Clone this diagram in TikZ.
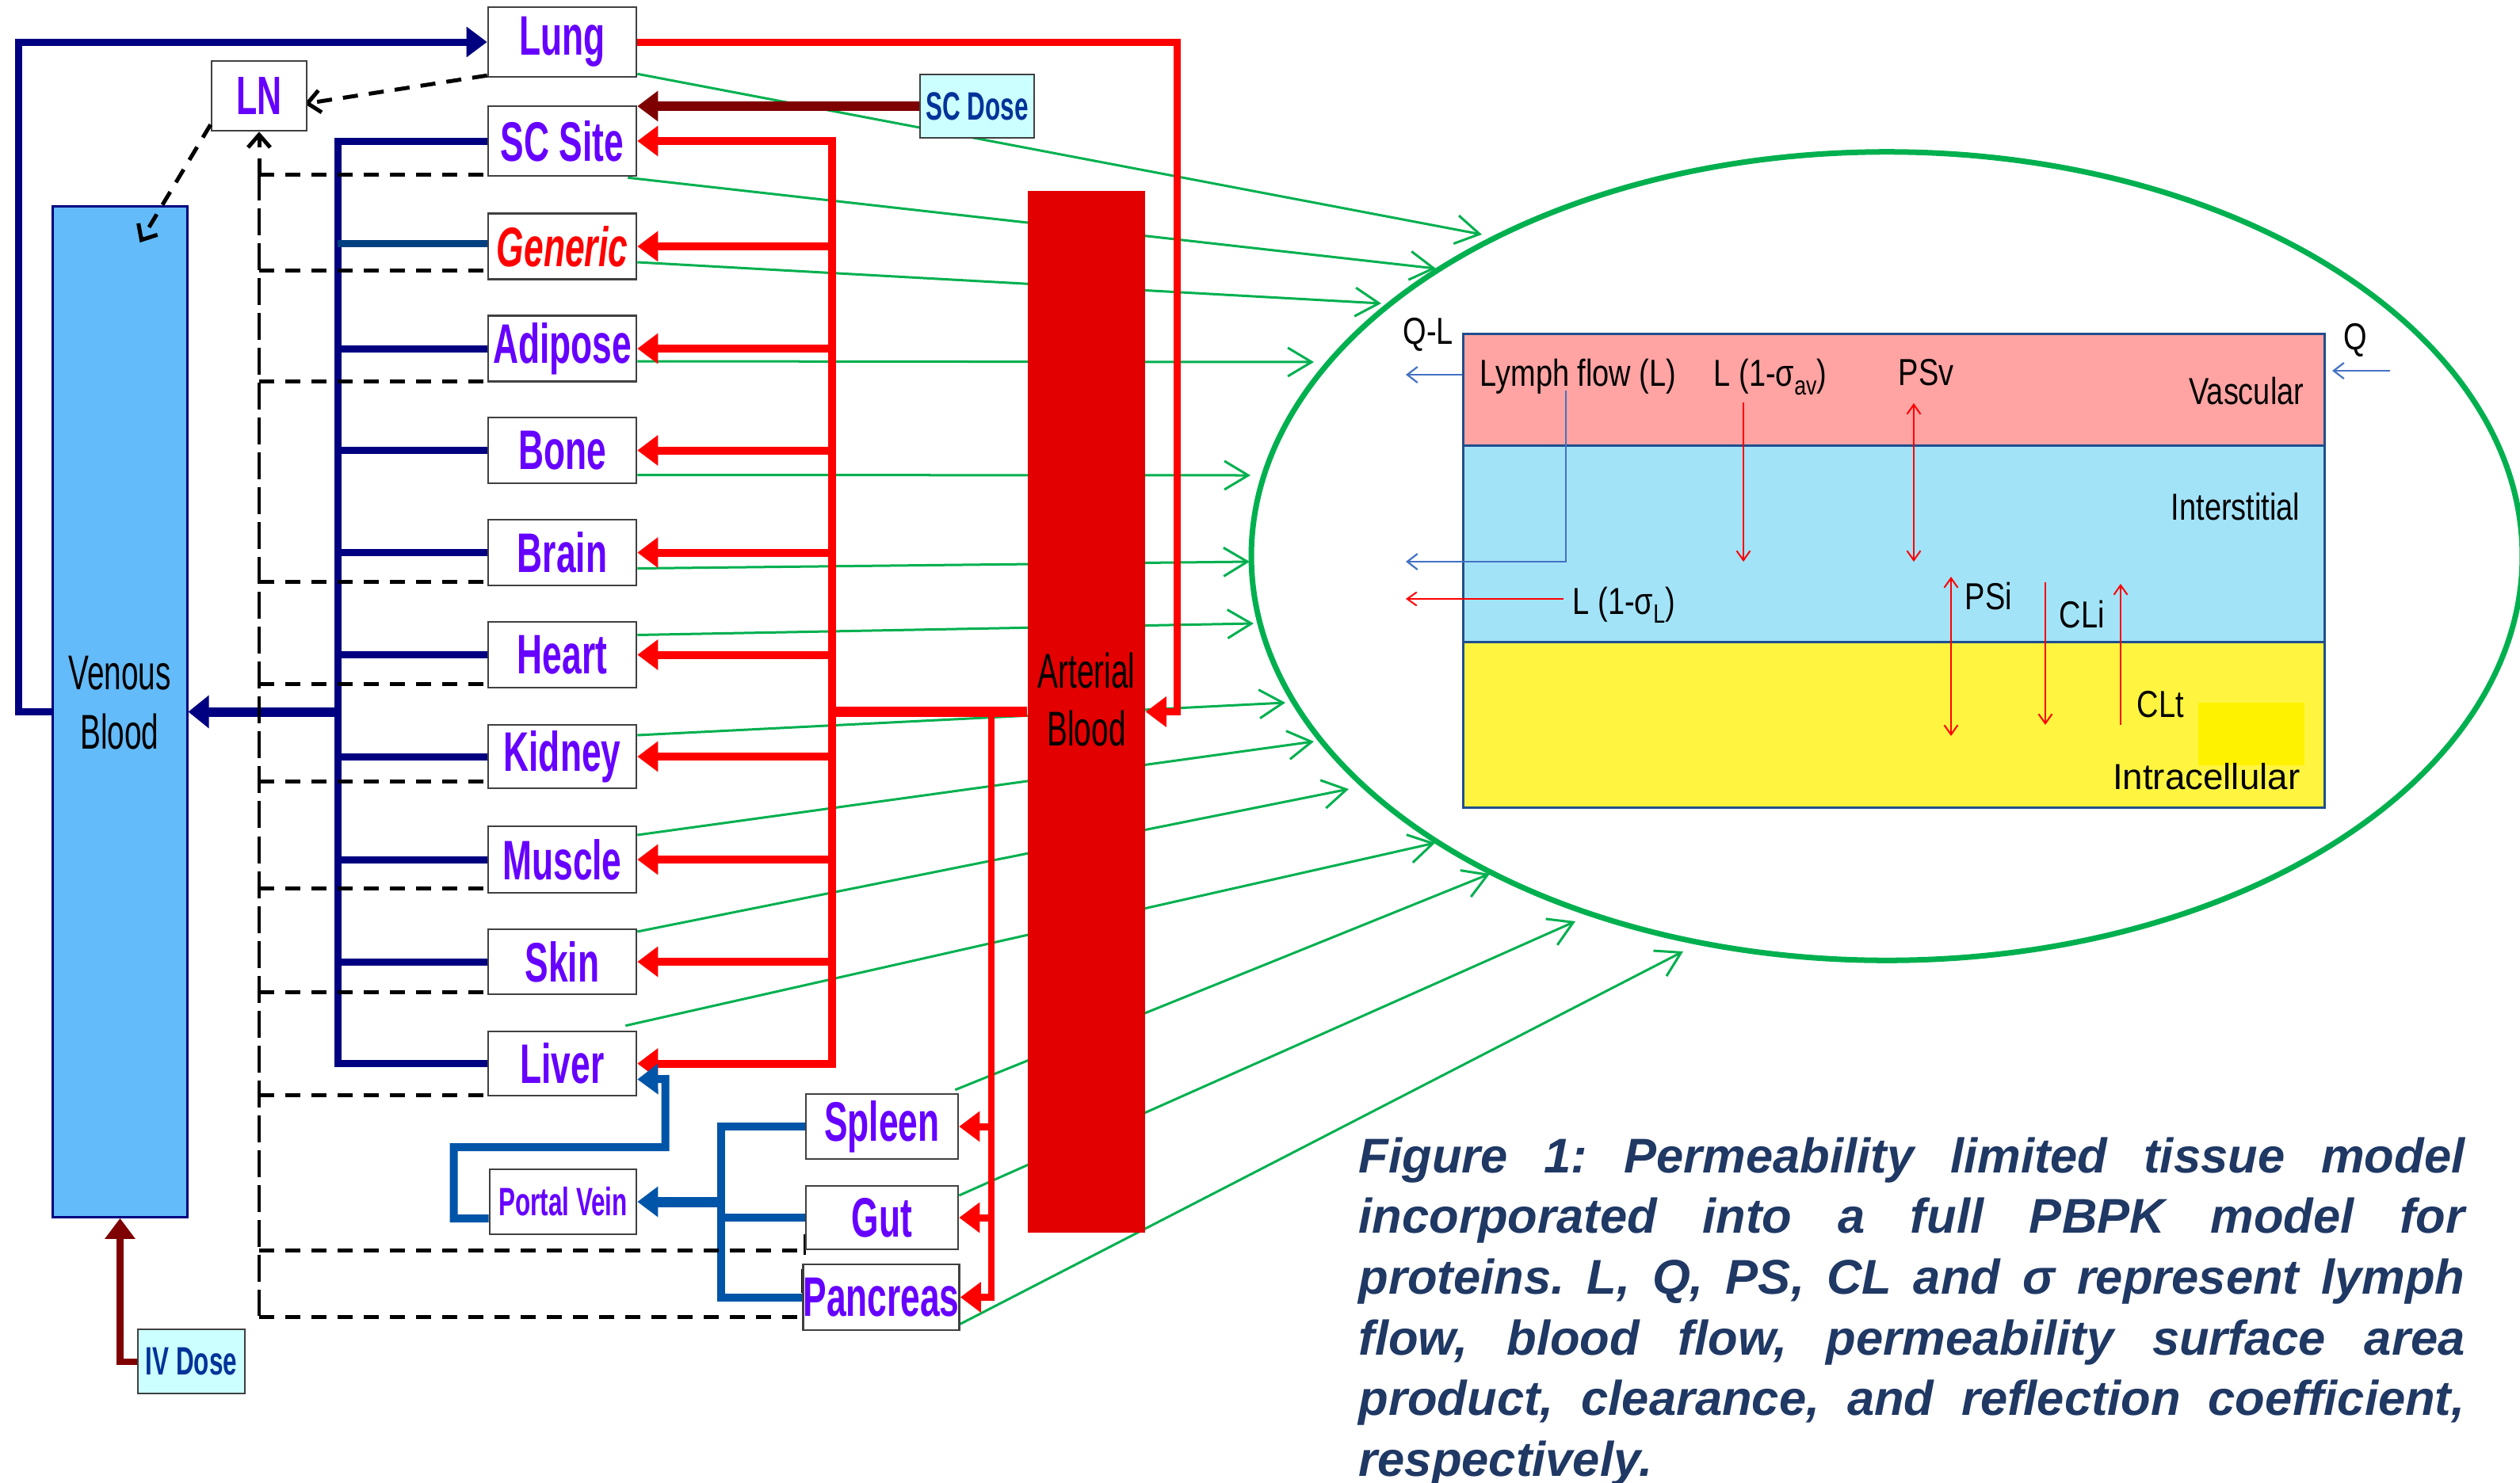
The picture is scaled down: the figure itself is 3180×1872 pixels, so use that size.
\documentclass[tikz,border=0pt]{standalone}
\usepackage{fontspec}
\setmainfont{Liberation Sans}
\newfontfamily\orgf[FakeStretch=0.63]{Liberation Sans}
\newfontfamily\innf[FakeStretch=0.8]{Liberation Sans}
\usetikzlibrary{arrows.meta,calc,shapes.geometric}
\pgfdeclarelayer{bg}
\pgfsetlayers{bg,main}
\definecolor{navyc}{HTML}{000080}
\definecolor{genc}{HTML}{004080}
\definecolor{steelc}{HTML}{0055A8}
\definecolor{redc}{HTML}{FF0000}
\definecolor{artc}{HTML}{E30000}
\definecolor{dredc}{HTML}{7F0000}
\definecolor{venc}{HTML}{63BBF9}
\definecolor{grnc}{HTML}{00B04F}
\definecolor{purc}{HTML}{6600FF}
\definecolor{dosec}{HTML}{CCFFFF}
\definecolor{dosetxt}{HTML}{003399}
\definecolor{capc}{HTML}{1F3864}
\definecolor{vasc}{HTML}{FFA3A3}
\definecolor{intc}{HTML}{A3E3F8}
\definecolor{cellc}{HTML}{FFF540}
\definecolor{rectb}{HTML}{1F4E8C}
\definecolor{inblue}{HTML}{4472C4}
\tikzset{
  organ/.style={draw=black!75, line width=0.025cm, fill=white, inner sep=0pt,
    minimum width=1.87cm, minimum height=0.83cm, text=purc,
    font=\orgf\bfseries\fontsize{20}{20}\selectfont},
  dosebox/.style={draw=black!75, line width=0.025cm, fill=dosec, inner sep=0pt,
    text=dosetxt, font=\orgf\bfseries\fontsize{14.2}{15}\selectfont},
  bigtip/.style={-{Triangle[length=0.26cm,width=0.37cm]}},
  navyline/.style={draw=navyc, line width=0.09cm},
  redline/.style={draw=redc, line width=0.1cm},
  steelline/.style={draw=steelc, line width=0.1cm},
  grnarrow/.style={draw=grnc, line width=0.03cm, -{Straight Barb[length=0.3cm,width=0.36cm]}},
  hdash/.style={draw=black, line width=0.05cm, dash pattern=on 0.19cm off 0.14cm},
  vdash/.style={draw=black, line width=0.035cm, dash pattern=on 0.34cm off 0.1cm},
  dasharrow/.style={hdash, -{Straight Barb[length=0.16cm,width=0.28cm]}},
  thinblue/.style={draw=inblue, line width=0.022cm, -{Straight Barb[length=0.13cm,width=0.2cm]}},
  thinred/.style={draw=redc, line width=0.02cm},
  rtip/.style={-{Straight Barb[length=0.12cm,width=0.17cm]}},
  rtiptwo/.style={{Straight Barb[length=0.12cm,width=0.17cm]}-{Straight Barb[length=0.12cm,width=0.17cm]}},
  intext/.style={font=\innf\fontsize{13.5}{14}\selectfont, inner sep=0pt, text=black},
  layer/.style={draw=rectb, line width=0.03cm, minimum width=10.86cm, inner sep=0pt}
}
\newcommand{\capline}[1]{\hbox to 13.95cm{\spaceskip=0.28em plus 1fil\relax #1}}
\begin{document}
\begin{tikzpicture}[x=0.01cm,y=-0.01cm]
\useasboundingbox (0,0) rectangle (3180,1872);

% ---------- organ boxes ----------
\node[organ, minimum height=0.88cm] (lung) at (709.5,53) {Lung};
\node[organ, minimum height=0.88cm] (sc) at (709.5,178) {SC Site};
\node[organ, text=redc, font=\orgf\bfseries\itshape\fontsize{20}{20}\selectfont] (generic) at (709.5,311) {Generic};
\node[organ] (adipose) at (709.5,440) {Adipose};
\node[organ] (bone) at (709.5,568.5) {Bone};
\node[organ] (brain) at (709.5,697.5) {Brain};
\node[organ] (heart) at (709.5,826.5) {Heart};
\node[organ, minimum height=0.80cm] (kidney) at (709.5,955) {Kidney};
\node[organ, minimum height=0.84cm] (muscle) at (709.5,1085) {Muscle};
\node[organ, minimum height=0.82cm] (skin) at (709.5,1214) {Skin};
\node[organ, minimum height=0.81cm] (liver) at (709.5,1342.5) {Liver};
\node[organ, minimum width=1.2cm, minimum height=0.88cm, font=\orgf\bfseries\fontsize{19.4}{20}\selectfont] (ln) at (327,121) {LN};
\node[organ, minimum width=1.85cm, minimum height=0.82cm, font=\orgf\bfseries\fontsize{14.2}{15}\selectfont] (portal) at (710.5,1517) {Portal Vein};
\node[organ, minimum width=1.92cm, minimum height=0.82cm] (spleen) at (1113,1422) {Spleen};
\node[organ, minimum width=1.92cm, minimum height=0.80cm] (gut) at (1113,1537) {Gut};
\node[organ, minimum width=1.94cm, minimum height=0.83cm] (pancreas) at (1112,1637.5) {Pancreas};
\node[dosebox, minimum width=1.44cm, minimum height=0.8cm] (scdose) at (1233,134) {SC Dose};
\node[dosebox, minimum width=1.35cm, minimum height=0.81cm] (ivdose) at (241.5,1718.5) {IV Dose};

% ---------- blood pools ----------
\node[draw=navyc, line width=0.03cm, fill=venc, minimum width=1.69cm, minimum height=12.75cm, inner sep=0pt] (venous) at (151.5,898.5) {};
\node[font=\orgf\fontsize{17.5}{21.3}\selectfont, align=center, inner sep=0pt] (ventext) at (151,887) {Venous\\Blood};
\node[fill=artc, minimum width=1.48cm, minimum height=13.15cm, inner sep=0pt] (arterial) at (1371,898.5) {};
\node[font=\orgf\fontsize{17.5}{20.8}\selectfont, align=center, inner sep=0pt] (arttext) at (1371,883) {Arterial\\Blood};

% LN to venous blood (over the venous box)
\draw[dasharrow] ($(ln.south west)+(0,-9)$) -- ($(venous.north)+(25,47)$);

% ---------- tissue model ----------
\node[draw=grnc, ellipse, line width=0.07cm, minimum width=16.03cm, minimum height=10.2cm, inner sep=0pt] (cell) at (2381,702) {};
\node[layer, fill=vasc, minimum height=1.41cm] (vasc) at (2390,492.5) {};
\node[layer, fill=intc, minimum height=2.48cm] (inter) at (2390,687) {};
\node[layer, fill=cellc, minimum height=2.08cm] (intra) at (2390,915) {};
\node[fill=yellow, minimum width=1.34cm, minimum height=0.79cm, inner sep=0pt] (ysq) at (2841,926.5) {};

\node[intext, anchor=base west] (tql) at (1770,434) {Q-L};
\node[intext, anchor=base west] (tq) at (2957,441) {Q};
\node[intext, anchor=base west] (tlymph) at (1867,487) {Lymph flow (L)};
\node[intext, anchor=base west] (tlav) at (2162,487) {L (1-σ\raisebox{-0.45ex}{\fontsize{9.5}{10}\selectfont av})};
\node[intext, anchor=base west] (tpsv) at (2395,486) {PSv};
\node[intext, anchor=base east] (tvas) at (2908,510) {Vascular};
\node[intext, anchor=base east] (tint) at (2903,656) {Interstitial};
\node[intext, anchor=base west] (tll) at (1984,775) {L (1-σ\raisebox{-0.45ex}{\fontsize{9.5}{10}\selectfont L})};
\node[intext, anchor=base west] (tpsi) at (2479,769) {PSi};
\node[intext, anchor=base west] (tcli) at (2598,792) {CLi};
\node[intext, anchor=base west] (tclt) at (2696,905) {CLt};
\node[intext, font=\fontsize{13}{14}\selectfont, anchor=base east] (tintra) at (2903,996) {Intracellular};

\coordinate (qs) at (3016,468);
\coordinate (qe) at (2943,468);
\coordinate (qle) at (1774,473);
\coordinate (lys) at (1976,493);
\coordinate (lye) at (1774,709);
\coordinate (lrs) at (1973,756);
\coordinate (lre) at (1774,756);
\coordinate (avs) at (2200,508);
\coordinate (ave) at (2200,709);
\coordinate (psvs) at (2415,509);
\coordinate (psve) at (2415,709);
\coordinate (psis) at (2462,728);
\coordinate (psie) at (2462,929);
\coordinate (clis) at (2581,735);
\coordinate (clie) at (2581,915);
\coordinate (clts) at (2676,915);
\coordinate (clte) at (2676,737);

\draw[thinblue] (qs) -- (qe);
\draw[thinblue] (vasc.west |- qle) -- (qle);
\draw[thinblue] (lys) |- (lye);
\draw[thinred, rtip] (lrs) -- (lre);
\draw[thinred, rtip] (avs) -- (ave);
\draw[thinred, rtiptwo] (psvs) -- (psve);
\draw[thinred, rtiptwo] (psis) -- (psie);
\draw[thinred, rtip] (clis) -- (clie);
\draw[thinred, rtip] (clts) -- (clte);

% ---------- caption ----------
\node[anchor=north west, inner sep=0pt, align=left, text=capc,
  font=\frenchspacing\bfseries\itshape\fontsize{17.5}{21.8}\selectfont] (caption) at (1714,1435)
  {\capline{Figure 1: Permeability limited tissue model}\\
   \capline{incorporated into a full PBPK model for}\\
   \capline{proteins. L, Q, PS, CL and σ represent lymph}\\
   \capline{flow, blood flow, permeability surface area}\\
   \capline{product, clearance, and reflection coefficient,}\\
   respectively.};

% ---------- green arrow ends on the ellipse ----------
\coordinate (g1) at (1870,296);
\coordinate (g2) at (1812,339);
\coordinate (g3) at (1743,383);
\coordinate (g4) at (1658,457);
\coordinate (g5) at (1578,600);
\coordinate (g6) at (1577,709);
\coordinate (g7) at (1582,787);
\coordinate (g8) at (1622,887);
\coordinate (g9) at (1658,936);
\coordinate (g10) at (1702,996);
\coordinate (g11) at (1811,1064);
\coordinate (g12) at (1880,1103);
\coordinate (g13) at (1988,1163);
\coordinate (g14) at (2124,1201);
\coordinate (nb) at (426,0);
\coordinate (rb) at (1050,0);
\coordinate (rbb) at (1251,0);
\coordinate (sb) at (910,0);
\coordinate (dx) at (327,0);
\coordinate (dtop) at (327,219);
\coordinate (dbot) at (327,1661);

\begin{pgfonlayer}{bg}
\fill[white] (0,0) rectangle (3180,1872);
% green
\draw[grnarrow] ($(lung.south east)+(0,-5)$) -- (g1);
\draw[grnarrow] ($(sc.south east)+(-12,1)$) -- (g2);
\draw[grnarrow] ($(generic.east)+(0,20)$) -- (g3);
\draw[grnarrow] ($(adipose.east)+(0,16)$) -- (g4);
\draw[grnarrow] ($(bone.east)+(0,31)$) -- (g5);
\draw[grnarrow] ($(brain.east)+(0,20)$) -- (g6);
\draw[grnarrow] ($(heart.east)+(0,-25)$) -- (g7);
\draw[grnarrow] ($(kidney.east)+(0,-27)$) -- (g8);
\draw[grnarrow] ($(muscle.east)+(0,-31)$) -- (g9);
\draw[grnarrow] ($(skin.east)+(0,-38)$) -- (g10);
\draw[grnarrow] ($(liver.north east)+(-15,-6)$) -- (g11);
\draw[grnarrow] ($(spleen.north east)+(-5,-4)$) -- (g12);
\draw[grnarrow] ($(gut.east)+(0,-28)$) -- (g13);
\draw[grnarrow] ($(pancreas.south east)+(0,-9)$) -- (g14);

% red arterial supply
\draw[redline, line cap=rect] (sc.east -| rb) -- (liver.east -| rb);
\foreach \n in {sc,generic,adipose,bone,brain,heart,kidney,muscle,skin,liver}
  \draw[redline, bigtip] (\n.east -| rb) -- (\n.east);
\draw[redline, line width=0.13cm] (arterial.west) -- (arterial.west -| rb);
\draw[redline, line width=0.08cm, line cap=rect] (arterial.west -| rbb) -- (pancreas.east -| rbb);
\foreach \n in {spleen,gut,pancreas}
  \draw[redline, line width=0.09cm, bigtip] (\n.east -| rbb) -- (\n.east);
\draw[redline, line width=0.09cm, bigtip] (lung.east) -- ++(681,0) |- (arterial.east);

% doses
\draw[draw=dredc, line width=0.12cm, bigtip] (scdose.west) -- (scdose.west -| sc.east);
\draw[draw=dredc, line width=0.08cm, bigtip] (ivdose.west) -| (venous.south);

% venous return
\draw[navyline, line cap=rect] (sc.west -| nb) -- (liver.west -| nb);
\foreach \n in {sc,adipose,bone,brain,heart,kidney,muscle,skin,liver}
  \draw[navyline] (\n.west) -- (\n.west -| nb);
\draw[draw=genc, line width=0.09cm] ($(generic.west)+(0,-4)$) -- ($(generic.west -| nb)+(0,-4)$);
\draw[navyline, line width=0.12cm, -{Triangle[length=0.26cm,width=0.4cm]}] (venous.east -| nb) -- (venous.east);
\draw[navyline, bigtip] (venous.west) -- ++(-42,0) |- (lung.west);

% portal system
\draw[steelline, line cap=rect] (spleen.west -| sb) -- (pancreas.west -| sb);
\foreach \n in {spleen,gut,pancreas}
  \draw[steelline] (\n.west) -- (\n.west -| sb);
\draw[steelline, line width=0.13cm, bigtip] (portal.east -| sb) -- (portal.east);
\draw[steelline, bigtip] ($(portal.west)+(0,21)$) -- ++(-44,0) -- ++(0,-90) -- ++(267,0) -- ++(0,-86) -- ($(liver.east)+(0,20)$);

% lymph (dashed)
\draw[vdash] (dtop) -- (dbot);
\draw[dasharrow] (dtop) -- (ln.south);
\foreach \n/\o in {sc/-3,generic/-12,adipose/-1,brain/-6,heart/-6,kidney/-10,muscle/-7,skin/-4,liver/-2,gut/0,pancreas/-18}{
  \path ($(\n.south west)+(0,\o)$) coordinate (tmp);
  \draw[hdash] (tmp -| dx) -- (tmp);
}
\draw[black, line width=0.035cm] ($(gut.south west)+(0,-20)$) -- ($(gut.south west)+(0,6)$);
\draw[black, line width=0.035cm] ($(pancreas.north west)+(1,7)$) -- ($(pancreas.north west)+(1,37)$);
\draw[dasharrow] ($(lung.south west)+(0,-3)$) -- ($(ln.east)+(-4,10)$);
\end{pgfonlayer}
\end{tikzpicture}
\end{document}
